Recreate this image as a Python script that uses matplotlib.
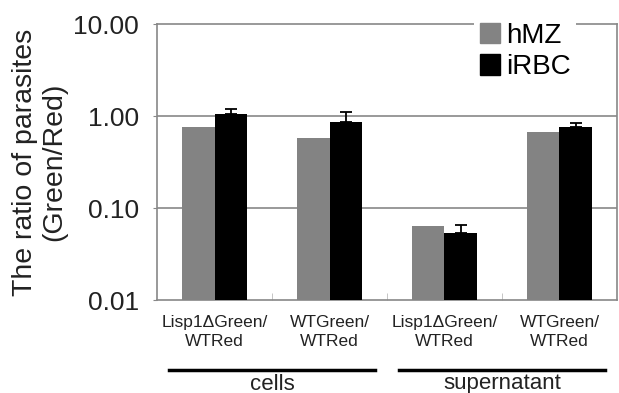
import matplotlib
matplotlib.use("Agg")
import matplotlib.pyplot as plt
import matplotlib.transforms as mtransforms
from matplotlib.patches import Patch
from matplotlib.lines import Line2D
import numpy as np

plt.rcParams['font.family'] = ['Liberation Sans', 'DejaVu Sans']

categories = ["Lisp1\u0394Green/\nWTRed", "WTGreen/\nWTRed", "Lisp1\u0394Green/\nWTRed", "WTGreen/\nWTRed"]
hmz = [0.76, 0.58, 0.063, 0.67]
irbc = [1.05, 0.86, 0.053, 0.76]
irbc_err = [0.14, 0.24, 0.013, 0.08]
groups = ["cells", "supernatant"]
group_span = [(0, 1), (2, 3)]
yticks = [0.01, 0.1, 1, 10]
yticklabels = ["0.01", "0.10", "1.00", "10.00"]

fig = plt.figure(figsize=(6.19, 3.93), dpi=100)
ax = fig.add_axes([157/619, 1-300/393, (617-157)/619, (300-24)/393])

x = np.arange(len(categories))
w = 0.28
gray = "#838383"
ax.bar(x - w/2, hmz, w, color=gray, label="hMZ", zorder=3)
ax.bar(x + w/2, irbc, w, color="black", label="iRBC", zorder=3)
ax.errorbar(x + w/2, irbc, yerr=[np.zeros(len(irbc)), irbc_err], fmt="none",
            ecolor="black", elinewidth=1.3, capsize=4, capthick=1.3, zorder=4)

ax.set_yscale("log")
ax.set_ylim(0.01, 10)
ax.set_xlim(-0.5, len(categories) - 0.5)
ax.set_yticks(yticks)
ax.set_yticklabels(yticklabels, fontsize=19, color="#222222")
ax.yaxis.set_minor_locator(matplotlib.ticker.NullLocator())
ax.tick_params(axis="y", length=3, color="#888888", pad=10)
ax.set_xticks(x)
ax.set_xticklabels(categories, fontsize=12.5, linespacing=1.3, color="#222222")
ax.tick_params(axis="x", length=0, pad=11)
ax.set_xticks(np.arange(len(categories) + 1)[1:-1] - 0.5, minor=True)
ax.tick_params(axis="x", which="minor", direction="in", length=5, color="#bbbbbb")

for yv in [0.1, 1]:
    ax.axhline(yv, color="#888888", lw=1.2, zorder=1)
for s in ax.spines.values():
    s.set_color("#888888")
    s.set_linewidth(1.2)

leg = ax.legend(handles=[Patch(color=gray, label="hMZ"), Patch(color="black", label="iRBC")],
                loc="upper left", bbox_to_anchor=(474/619, 1-17/393), bbox_transform=fig.transFigure,
                fontsize=20, frameon=True, fancybox=False, framealpha=1, edgecolor="white",
                handlelength=0.75, handleheight=0.75, handletextpad=0.2, labelspacing=0.2,
                borderpad=0.2, borderaxespad=0)
leg.get_frame().set_linewidth(0)

trans = mtransforms.blended_transform_factory(ax.transData, fig.transFigure)
for name, (a, b) in zip(groups, group_span):
    x0 = a - 0.5 + 0.1
    x1 = b + 0.5 - 0.1
    ax.add_line(Line2D([x0, x1], [1-370/393, 1-370/393], transform=trans, color="black",
                       lw=2.5, clip_on=False))
    ax.text((x0 + x1)/2, 1-384/393, name, transform=trans, ha="center", va="center",
            fontsize=16, color="#222222")

fig.text(40/619, 1-162/393, "The ratio of parasites\n(Green/Red)", rotation=90,
         ha="center", va="center", fontsize=20.5, linespacing=1.15, color="#222222")

fig.savefig("out.png", dpi=100)
